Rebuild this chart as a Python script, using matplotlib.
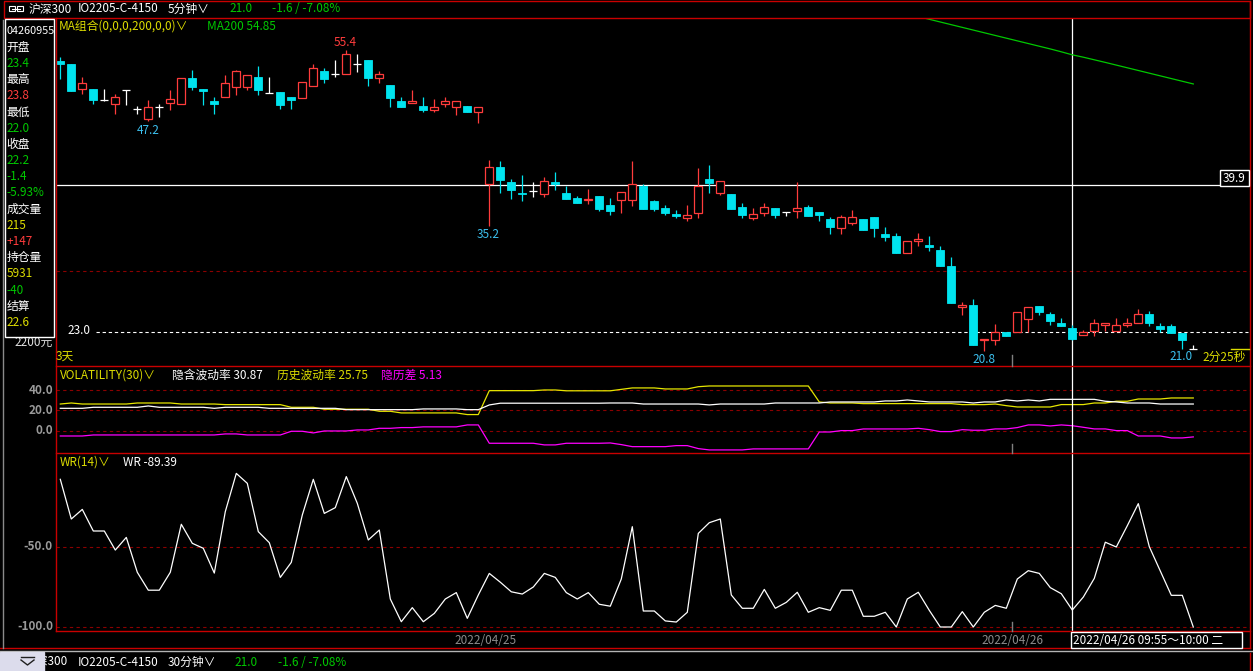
import matplotlib
matplotlib.use('Agg')
import matplotlib.pyplot as plt
from matplotlib.lines import Line2D
from matplotlib.patches import Rectangle

plt.rcParams['font.family'] = ['Noto Sans CJK SC', 'DejaVu Sans']

W, H = 1253, 671

# ---- 5-minute bars (04/22 tail, 04/25, 04/26 morning) ----
opens = [54.1, 53.8, 50.9, 50.9, 49.7, 49.2, 50.8, 48.6, 47.5, 48.9,
         49.3, 49.2, 52.2, 50.9, 49.5, 50.0, 51.1, 51.1, 52.3, 50.5,
         50.6, 50.0, 49.9, 51.3, 53.0, 52.7, 52.7, 53.8, 54.3, 52.2,
         51.4, 49.5, 49.3, 49.0, 48.5, 49.2, 48.9, 49.0, 48.3, 40.0,
         41.9, 40.2, 39.0, 39.15, 38.8, 40.2, 39.0, 38.4, 38.1, 38.6,
         37.6, 38.1, 38.1, 39.8, 38.0, 37.2, 36.5, 36.1, 36.7, 40.6,
         38.9, 38.8, 37.3, 36.1, 36.7, 37.2, 36.8, 36.9, 37.3, 36.8,
         36.0, 34.9, 35.5, 36.0, 36.2, 34.2, 34.0, 32.0, 33.4, 33.0,
         32.4, 30.5, 25.8, 26.1, 22.0, 22.0, 23.0, 23.0, 24.5, 26.0,
         25.0, 24.0, 23.4, 22.6, 23.1, 23.8, 23.1, 23.8, 24.0, 25.0,
         23.6, 23.6, 22.8, 21.0]
highs = [54.6, 53.8, 52.3, 50.9, 50.9, 50.4, 50.8, 49.0, 49.7, 49.2,
         50.8, 52.2, 53.1, 50.9, 50.0, 52.5, 53.1, 52.5, 53.6, 52.3,
         50.6, 50.0, 51.7, 53.8, 53.3, 54.3, 55.4, 54.9, 54.3, 53.0,
         51.4, 50.0, 50.8, 50.0, 49.8, 50.0, 49.5, 49.0, 48.9, 42.8,
         42.6, 40.6, 41.0, 40.2, 40.8, 41.4, 39.8, 38.6, 39.4, 38.6,
         38.4, 39.1, 42.6, 40.0, 38.1, 37.6, 37.0, 37.6, 41.8, 42.2,
         40.3, 38.8, 37.8, 37.2, 37.8, 37.2, 36.8, 40.2, 37.6, 36.8,
         36.2, 36.4, 37.0, 36.0, 36.2, 35.0, 34.3, 33.4, 34.4, 34.0,
         32.9, 31.6, 26.4, 26.8, 22.2, 23.9, 23.0, 25.2, 25.8, 26.0,
         25.2, 24.6, 23.8, 23.2, 24.5, 24.0, 24.6, 24.6, 25.6, 25.4,
         24.0, 23.9, 22.8, 21.5]
lows = [52.1, 50.7, 50.4, 49.2, 49.5, 48.0, 49.1, 48.0, 47.2, 47.7,
        48.5, 49.2, 50.8, 49.1, 48.0, 50.0, 50.2, 50.8, 50.2, 50.5,
        48.6, 48.6, 49.9, 51.3, 51.6, 52.3, 52.7, 52.9, 51.3, 51.6,
        48.9, 48.9, 49.3, 48.3, 48.3, 48.9, 47.9, 48.3, 47.0, 35.2,
        38.9, 38.3, 38.0, 38.5, 38.5, 39.3, 38.3, 37.8, 37.7, 36.9,
        36.4, 36.7, 37.5, 37.1, 36.9, 36.4, 36.1, 35.7, 36.1, 38.9,
        38.7, 37.1, 36.1, 35.8, 36.3, 36.1, 36.3, 36.1, 36.3, 35.7,
        34.2, 34.2, 35.3, 34.7, 33.9, 33.4, 32.0, 32.0, 32.9, 32.3,
        30.5, 26.3, 24.9, 21.5, 20.8, 21.5, 22.5, 23.0, 23.0, 24.9,
        23.8, 23.6, 22.0, 22.6, 22.5, 23.1, 23.1, 23.5, 24.0, 23.6,
        23.0, 22.8, 21.0, 21.0]
closes = [53.8, 50.7, 51.6, 49.7, 49.7, 50.0, 50.8, 48.6, 48.9, 48.9,
          49.8, 52.2, 51.1, 50.7, 49.2, 51.6, 53.0, 52.5, 50.8, 50.5,
          49.1, 49.7, 51.7, 53.3, 52.1, 52.7, 54.9, 53.8, 52.2, 52.7,
          49.9, 48.9, 49.5, 48.5, 48.9, 49.5, 49.5, 48.3, 48.9, 41.9,
          40.4, 39.3, 38.8, 39.15, 40.3, 40.0, 38.3, 37.8, 38.3, 37.1,
          36.9, 39.1, 40.0, 37.1, 37.1, 36.7, 36.3, 36.4, 39.8, 40.1,
          40.3, 37.1, 36.4, 36.5, 37.3, 36.4, 36.8, 37.2, 36.3, 36.4,
          35.0, 36.2, 36.2, 34.7, 34.9, 33.9, 32.0, 33.4, 33.7, 32.7,
          30.5, 26.3, 26.1, 21.5, 22.2, 23.0, 22.5, 25.2, 25.8, 25.3,
          24.2, 23.6, 22.2, 23.0, 24.0, 24.0, 23.8, 24.0, 25.0, 24.0,
          23.3, 22.8, 22.0, 21.0]

ma200_start = 78
ma200 = [59.25, 58.94, 58.63, 58.32, 58.01, 57.70, 57.39, 57.08, 56.77,
         56.46, 56.15, 55.84, 55.53, 55.20, 54.85, 54.58, 54.28, 53.98,
         53.67, 53.36, 53.05, 52.74, 52.43, 52.12, 51.81, 51.50]

# ---- VOLATILITY(30) ----
implied_vol = [22.1, 22.1, 22.1, 23.1, 23.1, 23.1, 23.1, 23.1, 24.4, 23.1,
               23.1, 23.1, 23.1, 23.1, 22.1, 23.1, 23.1, 23.1, 23.1, 22.1,
               22.1, 22.1, 22.1, 22.1, 22.1, 22.1, 20.8, 20.8, 20.8, 20.8,
               20.8, 20.8, 20.8, 21.5, 21.5, 21.5, 21.5, 20.8, 20.8, 25.4,
               27.1, 27.1, 27.1, 27.1, 27.1, 27.1, 27.1, 27.1, 27.1, 27.1,
               27.3, 27.3, 27.3, 26.3, 26.3, 26.3, 26.3, 26.3, 26.3, 25.4,
               26.3, 26.3, 26.3, 26.3, 26.3, 27.3, 27.3, 27.3, 27.3, 27.3,
               28.3, 28.3, 28.3, 28.3, 28.3, 29.3, 29.3, 30.25, 29.3, 28.3,
               28.3, 28.3, 28.3, 27.3, 28.3, 28.3, 30.25, 29.3, 30.25, 29.3,
               30.87, 30.87, 30.87, 30.87, 30.87, 29.0, 28.3, 27.3, 27.3, 27.3,
               26.3, 26.3, 26.3, 26.3]
hist_vol = [26.3, 27.3, 26.3, 26.3, 26.3, 26.3, 26.3, 27.3, 27.3, 27.3,
            27.3, 26.3, 26.3, 26.3, 26.3, 25.7, 25.7, 25.7, 25.7, 25.7,
            25.7, 23.1, 23.1, 23.1, 21.2, 21.2, 21.2, 21.2, 21.2, 19.2,
            19.2, 17.6, 17.6, 17.6, 17.6, 17.6, 17.6, 16.0, 16.0, 39.35,
            39.35, 39.35, 39.35, 39.35, 40.0, 40.0, 39.2, 39.2, 39.2, 39.2,
            39.2, 40.6, 42.0, 42.0, 42.0, 41.0, 41.0, 41.0, 43.2, 43.9,
            43.9, 43.9, 43.9, 43.9, 43.9, 43.9, 43.9, 43.9, 43.9, 28.3,
            27.3, 27.3, 27.3, 26.7, 26.7, 26.7, 26.7, 26.7, 26.7, 26.7,
            26.7, 26.7, 25.7, 25.7, 25.7, 26.3, 24.7, 23.4, 23.4, 23.4,
            23.4, 25.75, 25.75, 25.75, 27.3, 27.3, 29.0, 29.0, 31.2, 31.2,
            31.2, 32.2, 32.2, 32.2]
vol_spread = [-4.9, -4.9, -4.9, -3.9, -3.9, -3.9, -3.9, -3.9, -3.9, -3.9,
              -3.9, -3.9, -3.9, -3.9, -3.9, -2.9, -2.9, -3.9, -3.9, -3.9,
              -3.9, -0.3, -0.3, -1.9, 0.0, 0.0, 0.0, 1.0, 1.0, 2.6,
              2.6, 3.3, 3.3, 4.0, 4.0, 4.0, 4.0, 5.9, 5.9, -12.0,
              -12.0, -12.0, -12.0, -12.0, -13.6, -13.6, -12.0, -12.0, -12.0, -12.0,
              -11.7, -13.3, -15.3, -15.3, -15.3, -15.3, -14.3, -14.3, -17.2, -18.5,
              -18.5, -18.5, -18.5, -17.5, -17.5, -17.5, -17.5, -17.5, -17.5, -1.0,
              -1.0, 0.35, 0.35, 1.97, 1.97, 1.97, 1.97, 1.97, 2.6, 1.3,
              -0.6, -0.6, 1.3, 0.7, 0.7, 2.0, 2.0, 3.3, 5.9, 5.9,
              4.9, 5.9, 5.13, 3.6, 2.0, 2.0, 0.35, 0.35, -4.9, -4.9,
              -4.9, -6.8, -6.8, -5.8]

# ---- WR(14) ----
wr = [-7.7, -32.5, -26.5, -40.0, -40.0, -51.9, -44.0, -65.8, -77.0, -77.0,
      -65.8, -35.8, -47.7, -50.8, -66.3, -27.9, -4.0, -10.2, -40.4, -47.3,
      -69.0, -59.6, -30.0, -7.7, -29.0, -25.4, -6.0, -22.7, -45.6, -39.4,
      -82.5, -96.7, -87.9, -96.7, -91.5, -82.5, -78.5, -94.6, -80.0, -66.5,
      -72.0, -78.0, -79.4, -75.0, -66.5, -69.0, -78.5, -82.5, -78.5, -85.8,
      -87.0, -70.0, -37.3, -90.0, -90.0, -96.2, -96.9, -90.8, -41.5, -34.8,
      -32.5, -80.0, -88.3, -88.3, -76.5, -88.3, -84.6, -78.3, -90.8, -87.9,
      -89.6, -77.0, -77.0, -93.3, -93.3, -90.8, -100.0, -82.5, -78.3, -89.6,
      -100.0, -100.0, -90.4, -100.0, -90.8, -86.5, -88.3, -70.0, -64.8, -66.5,
      -75.4, -79.2, -89.39, -81.3, -69.6, -47.0, -50.0, -36.7, -22.9, -49.8,
      -65.0, -80.2, -80.2, -100.0]

date_labels = ['2022/04/25', '2022/04/26']
cursor = 92

RED = '#ff3c3c'
CYAN = '#00e4ef'
YEL = '#dcdc00'
GRN = '#00c800'
MAG = '#ff00ff'
FRAME = '#c80000'
GRID = '#8c0000'
GRAY = '#9a9a9a'
FS = 8.5

fig = plt.figure(figsize=(W / 100, H / 100), dpi=100, facecolor='black')


def ax_px(x0, y0, x1, y1, ylim):
    ax = fig.add_axes([x0 / W, 1 - y1 / H, (x1 - x0) / W, (y1 - y0) / H])
    ax.set_axis_off()
    ax.set_xlim((x0 - 60.3) / 11, (x1 - 60.3) / 11)
    ax.set_ylim(*ylim)
    return ax


def ftext(x, y, s, color, size=FS, ha='left', va='center', **kw):
    fig.text(x / W, 1 - y / H, s, color=color, fontsize=size, ha=ha, va=va, **kw)


def fline(x0, y0, x1, y1, color, lw=1.0, **kw):
    fig.add_artist(Line2D([x0 / W, x1 / W], [1 - y0 / H, 1 - y1 / H],
                          color=color, lw=lw, **kw))


def frect(x0, y0, x1, y1, edge, face='none', lw=1.0, z=3):
    fig.add_artist(Rectangle((x0 / W, 1 - y1 / H), (x1 - x0) / W, (y1 - y0) / H,
                             transform=fig.transFigure, edgecolor=edge,
                             facecolor=face, lw=lw, zorder=z))


# ---- price panel ----
ax = ax_px(56, 18, 1250, 366, (19.04, 59.09))
ax.axhline(30.0, color=GRID, lw=0.8, ls=(0, (3, 3)))
ax.hlines(23.0, 3.2, 108, color='white', lw=0.8, ls=(0, (3, 2.5)))
ax.hlines(39.9, -0.4, 105.4, color='white', lw=0.9)
ax.axvline(cursor, color='white', lw=0.9)

bw = 0.75
for i in range(len(opens)):
    o, h, l, c = opens[i], highs[i], lows[i], closes[i]
    if c > o:
        ax.vlines(i, c, h, color=RED, lw=0.9)
        ax.vlines(i, l, o, color=RED, lw=0.9)
        ax.bar(i, c - o, bottom=o, width=bw, facecolor='black', edgecolor=RED, lw=0.9, zorder=3)
    elif c < o:
        ax.vlines(i, l, h, color=CYAN, lw=0.9)
        ax.bar(i, o - c, bottom=c, width=bw, facecolor=CYAN, edgecolor=CYAN, lw=0.6, zorder=3)
    else:
        ax.vlines(i, l, h, color='white', lw=0.9)
        ax.hlines(o, i - bw / 2, i + bw / 2, color='white', lw=0.9)

ax.plot(range(ma200_start, ma200_start + len(ma200)), ma200, color=GRN, lw=0.9)

# ---- volatility panel ----
av = ax_px(56, 366, 1250, 453, (-21.5, 63.4))
for v in (40, 20, 0):
    av.axhline(v, color=GRID, lw=0.8, ls=(0, (3, 3)))
xs = range(len(wr))
av.plot(xs, hist_vol, color='#e6e600', lw=0.9)
av.plot(xs, implied_vol, color='white', lw=0.9)
av.plot(xs, vol_spread, color=MAG, lw=0.9)
av.axvline(cursor, color='white', lw=0.9)

# ---- WR panel ----
aw = ax_px(56, 453, 1250, 631, (-102.5, 8.75))
for v in (-50, -100):
    aw.axhline(v, color=GRID, lw=0.8, ls=(0, (3, 3)))
aw.plot(xs, wr, color='white', lw=0.9)
aw.axvline(cursor, color='white', lw=0.9)

# ---- frames ----
frect(4, 1, 1250, 18, FRAME)
fline(56, 18, 56, 631, FRAME)
fline(1249.5, 1, 1249.5, 648, FRAME)
for yy in (366, 453, 631):
    fline(56, yy, 1250, yy, FRAME)
fline(0, 648, 1250, 648, FRAME)
fline(2.5, 20, 2.5, 648, '#8a8a8a')
fline(0, 650.5, 1253, 650.5, '#b4b4b4')
fline(1250, 653, 1250, 671, FRAME)
for y0, y1 in ((355, 366), (444, 453), (622, 631)):
    fline(1012, y0, 1012, y1, '#808080')

# ---- top bar ----
frect(9, 6, 15, 11, 'white', lw=0.8)
frect(17, 6, 23, 11, 'white', lw=0.8)
fline(12, 8.5, 20, 8.5, 'white', lw=0.8)
ftext(29, 9, '沪深300', 'white')
ftext(78, 9, 'IO2205-C-4150', 'white')
ftext(168, 9, '5分钟∨', 'white')
ftext(229, 9, '21.0', GRN)
ftext(272, 9, '-1.6 / -7.08%', GRN)

# ---- info box ----
frect(5, 19, 54.5, 337, 'white', face='black', lw=1.0, z=4)
info = [('04260955', 'white'), ('开盘', 'white'), ('23.4', GRN), ('最高', 'white'),
        ('23.8', RED), ('最低', 'white'), ('22.0', GRN), ('收盘', 'white'),
        ('22.2', GRN), ('-1.4', GRN), ('-5.93%', GRN), ('成交量', 'white'),
        ('215', YEL), ('+147', RED), ('持仓量', 'white'), ('5931', YEL),
        ('-40', GRN), ('结算', 'white'), ('22.6', YEL)]
for k, (s, col) in enumerate(info):
    fig.text(6.5 / W, 1 - (31 + k * 16.2) / H, s, color=col,
             fontsize=7.8 if k == 0 else FS, ha='left', va='center', zorder=5)
ftext(14, 342, '2200元', '#e0e0e0')
ftext(56, 356, '3天', YEL)

# ---- price panel labels ----
ftext(59, 26.5, 'MA组合(0,0,0,200,0,0)∨', YEL)
ftext(207, 26.5, 'MA200 54.85', GRN)
ftext(67, 331, '23.0', 'white')
ftext(345, 43, '55.4', RED, ha='center')
ftext(148, 130, '47.2', '#3cc0ee', ha='center')
ftext(488, 234, '35.2', '#3cc0ee', ha='center')
ftext(984, 359, '20.8', '#3cc0ee', ha='center')
ftext(1181, 357, '21.0', '#3cc0ee', ha='center')
ftext(1202, 357, '2分25秒', YEL)
fline(1231, 349, 1249, 349, YEL)
frect(1220, 170, 1249, 186, 'white', face='black', z=4)
fig.text(1234.5 / W, 1 - 178 / H, '39.9', color='white', fontsize=FS,
         ha='center', va='center', zorder=5)

# ---- volatility labels ----
ftext(60, 375, 'VOLATILITY(30)∨', YEL)
ftext(172, 375, '隐含波动率 30.87', 'white')
ftext(277, 375, '历史波动率 25.75', YEL)
ftext(381, 375, '隐历差 5.13', MAG)
for v, yy in (('40.0', 390), ('20.0', 410), ('0.0', 431)):
    ftext(53, yy, v, GRAY, ha='right', weight='bold')

# ---- WR labels ----
ftext(60, 462, 'WR(14)∨', YEL)
ftext(123, 462, 'WR -89.39', 'white')
ftext(53, 547, '-50.0', GRAY, ha='right', weight='bold')
ftext(53, 627, '-100.0', GRAY, ha='right', weight='bold')

# ---- date row ----
ftext(486, 640, date_labels[0], '#8c8c8c', ha='center')
ftext(1012, 640, date_labels[1], '#8c8c8c', ha='center')
frect(1071, 632, 1242, 648, 'white', face='black', z=4)
fig.text(1073 / W, 1 - 640 / H, '2022/04/26 09:55～10:00 二', color='white',
         fontsize=FS, ha='left', va='center', zorder=5)

# ---- bottom bar ----
ftext(25, 662, '沪深300', 'white')
frect(0, 652, 44, 671, '#dcdcec', face='#dcdcec', z=6)
fline(21, 657, 34, 657, '#202020', lw=1.0, zorder=7)
fig.add_artist(Line2D([21 / W, 27.5 / W, 34 / W], [1 - 660 / H, 1 - 665 / H, 1 - 660 / H],
                      color='#202020', lw=1.0, zorder=7))
ftext(78, 662, 'IO2205-C-4150', 'white')
ftext(168, 662, '30分钟∨', 'white')
ftext(234, 662, '21.0', GRN)
ftext(278, 662, '-1.6 / -7.08%', GRN)

fig.savefig('out.png', dpi=100, facecolor='black')
